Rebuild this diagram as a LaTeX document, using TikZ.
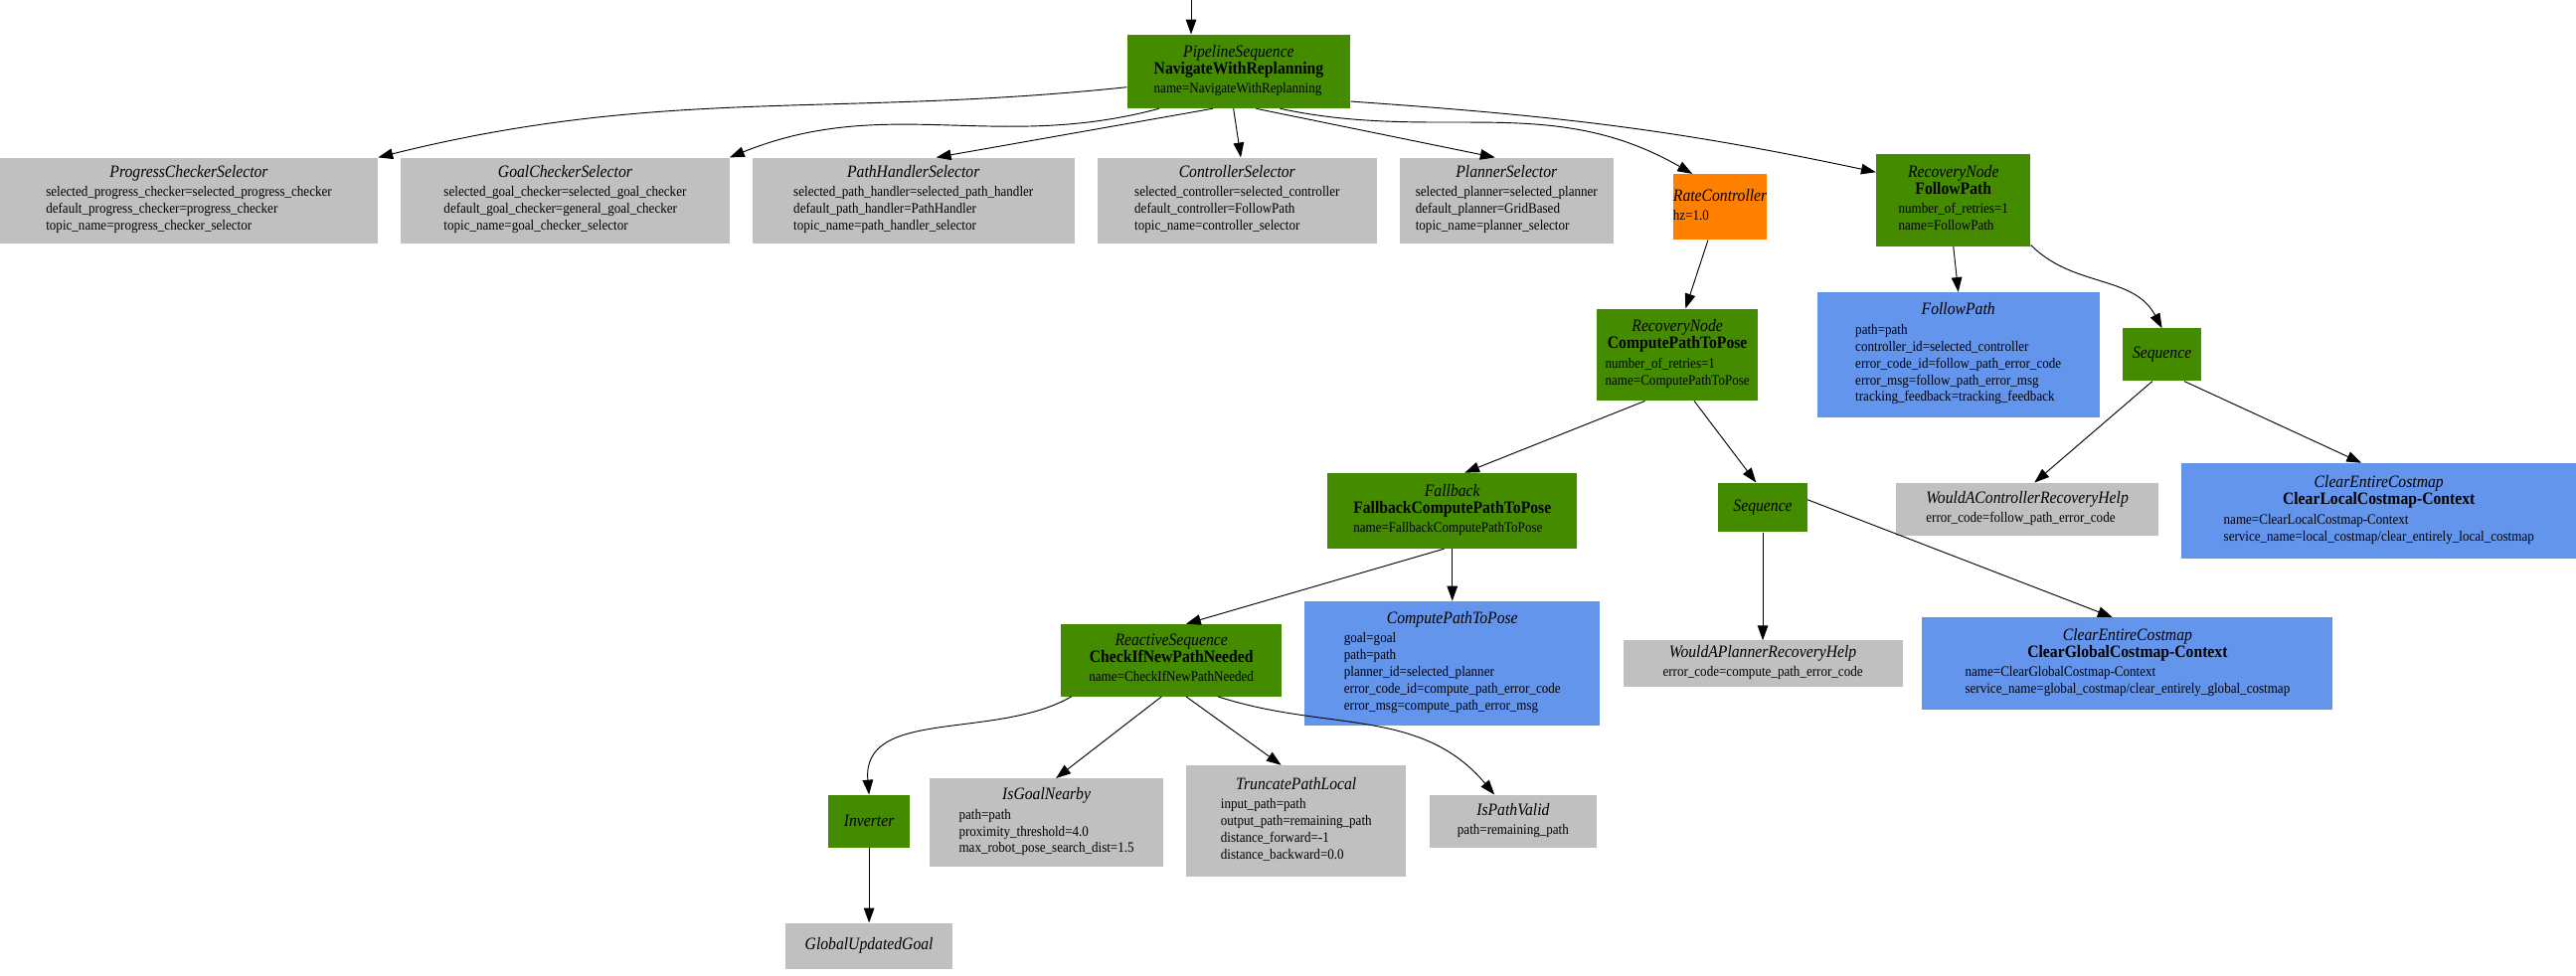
\documentclass[tikz,border=0pt]{standalone}
\usepackage{fontspec}
\setmainfont{Liberation Serif}[FakeStretch=0.9]
\usetikzlibrary{arrows.meta}
\definecolor{bgreen}{HTML}{458B00}
\definecolor{bgray}{HTML}{C0C0C0}
\definecolor{bblue}{HTML}{6495ED}
\definecolor{borange}{HTML}{FF7F00}
\newcommand\typefont{\fontsize{15}{17}\selectfont\itshape}
\newcommand\namefont{\fontsize{15}{17}\selectfont\bfseries}
\newcommand\tyname[3]{\begin{tabular}{@{}l@{}}\multicolumn{1}{@{}c@{}}{\typefont #1}\\\multicolumn{1}{@{}c@{}}{\namefont #2}\\[2pt]#3\end{tabular}}
\newcommand\ty[2]{\begin{tabular}{@{}l@{}}\multicolumn{1}{@{}c@{}}{\typefont #1}\\[2pt]#2\end{tabular}}
\tikzset{
	sz/.style 2 args={minimum width=#1*0.5mm,minimum height=#2*0.5mm},
	bnode/.style={inner sep=0pt, font=\fontsize{12.5}{14.6}\selectfont},
	gnode/.style={bnode, fill=bgreen},
	gynode/.style={bnode, fill=bgray},
	blnode/.style={bnode, fill=bblue},
	ornode/.style={bnode, fill=borange},
	link/.style={-{Triangle[length=4.5mm,width=3.2mm]}, line width=0.8pt}
}
\begin{document}
\catcode`\_=12
\begin{tikzpicture}[x=0.5mm,y=0.5mm]
	\useasboundingbox (0,0) rectangle (1568,-594);
	\coordinate (top) at (725,0);
	% first row
	\node[gnode,sz={136}{45}] (pipe) at (754,-43.5) {\tyname{PipelineSequence}{NavigateWithReplanning}{name=NavigateWithReplanning}};
	\node[gynode,sz={230}{52}] (prog) at (115,-122) {\ty{ProgressCheckerSelector}{selected_progress_checker={selected_progress_checker}\\default_progress_checker=progress_checker\\topic_name=progress_checker_selector}};
	\node[gynode,sz={200}{52}] (goal) at (344,-122) {\ty{GoalCheckerSelector}{selected_goal_checker={selected_goal_checker}\\default_goal_checker=general_goal_checker\\topic_name=goal_checker_selector}};
	\node[gynode,sz={196}{52}] (phand) at (556,-122) {\ty{PathHandlerSelector}{selected_path_handler={selected_path_handler}\\default_path_handler=PathHandler\\topic_name=path_handler_selector}};
	\node[gynode,sz={170}{52}] (ctrl) at (753,-122) {\ty{ControllerSelector}{selected_controller={selected_controller}\\default_controller=FollowPath\\topic_name=controller_selector}};
	\node[gynode,sz={130}{52}] (plan) at (917,-122) {\ty{PlannerSelector}{selected_planner={selected_planner}\\default_planner=GridBased\\topic_name=planner_selector}};
	\node[ornode,sz={50}{40}] (rate) at (1047,-126) {\ty{RateController}{hz=1.0}};
	\node[gnode,sz={94}{56}] (recfp) at (1189,-122) {\tyname{RecoveryNode}{FollowPath}{number_of_retries=1\\name=FollowPath}};
	% second row
	\node[gnode,sz={98}{56}] (reccp) at (1021,-216) {\tyname{RecoveryNode}{ComputePathToPose}{number_of_retries=1\\name=ComputePathToPose}};
	\node[blnode,sz={172}{76}] (fpath) at (1192,-216) {\ty{FollowPath}{path={path}\\controller_id={selected_controller}\\error_code_id={follow_path_error_code}\\error_msg={follow_path_error_msg}\\tracking_feedback={tracking_feedback}}};
	\node[gnode,sz={48}{32}] (seqr) at (1316,-216) {\typefont Sequence};
	% third row
	\node[gnode,sz={152}{46}] (fall) at (884,-311) {\tyname{Fallback}{FallbackComputePathToPose}{name=FallbackComputePathToPose}};
	\node[gnode,sz={54}{30}] (seqm) at (1073,-309) {\typefont Sequence};
	\node[gynode,sz={160}{32}] (wacr) at (1234,-310) {\ty{WouldAControllerRecoveryHelp}{error_code={follow_path_error_code}}};
	\node[blnode,sz={240}{58}] (clrl) at (1448,-311) {\tyname{ClearEntireCostmap}{ClearLocalCostmap-Context}{name=ClearLocalCostmap-Context\\service_name=local_costmap/clear_entirely_local_costmap}};
	% fourth row
	\node[gnode,sz={134}{44}] (ckn) at (713,-402) {\tyname{ReactiveSequence}{CheckIfNewPathNeeded}{name=CheckIfNewPathNeeded}};
	\node[blnode,sz={180}{76}] (cptp) at (884,-404) {\ty{ComputePathToPose}{goal={goal}\\path={path}\\planner_id={selected_planner}\\error_code_id={compute_path_error_code}\\error_msg={compute_path_error_msg}}};
	\node[gynode,sz={170}{28}] (wapr) at (1073,-404) {\ty{WouldAPlannerRecoveryHelp}{error_code={compute_path_error_code}}};
	\node[blnode,sz={250}{56}] (clrg) at (1295,-404) {\tyname{ClearEntireCostmap}{ClearGlobalCostmap-Context}{name=ClearGlobalCostmap-Context\\service_name=global_costmap/clear_entirely_global_costmap}};
	% fifth row
	\node[gnode,sz={50}{32}] (inv) at (529,-500) {\typefont Inverter};
	\node[gynode,sz={142}{54}] (igoal) at (637,-501) {\ty{IsGoalNearby}{path={path}\\proximity_threshold=4.0\\max_robot_pose_search_dist=1.5}};
	\node[gynode,sz={134}{68}] (trunc) at (789,-500) {\ty{TruncatePathLocal}{input_path={path}\\output_path={remaining_path}\\distance_forward=-1\\distance_backward=0.0}};
	\node[gynode,sz={102}{32}] (ipv) at (921,-500) {\ty{IsPathValid}{path={remaining_path}}};
	\node[gynode,sz={102}{28}] (gug) at (529,-576) {\typefont GlobalUpdatedGoal};
	% connectors
	\draw[link] (top) -- (top |- pipe.north);
	\draw[link] (pipe.188) to[out=186,in=14] (prog.north east);
	\draw[link] (pipe.205) to[out=195,in=22] (goal.north east);
	\draw[link] (pipe.235) -- (phand.62);
	\draw[link] (pipe.262) -- (ctrl.85);
	\draw[link] (pipe.295) -- (plan.105);
	\draw[link] (pipe.318) to[out=-12,in=150] (rate.130);
	\draw[link] (pipe.345) to[out=-4,in=168] (recfp.160);
	\draw[link] (rate.250) -- (reccp.80);
	\draw[link] (recfp.south) -- (fpath.north);
	\draw[link] (recfp.330) to[out=-45,in=118] (seqr.north);
	\draw[link] (reccp.235) -- (fall.72);
	\draw[link] (reccp.290) -- (seqm.105);
	\draw[link] (seqr.250) -- (wacr.75);
	\draw[link] (seqr.310) -- (clrl.110);
	\draw[link] (fall.258) -- (ckn.68);
	\draw[link] (fall.south) -- (cptp.north);
	\draw[link] (seqm.south) -- (wapr.north);
	\draw[link] (seqm.10) -- (clrg.108);
	\draw[link] (ckn.200) to[out=210,in=95] (inv.north);
	\draw[link] (ckn.255) -- (igoal.78);
	\draw[link] (ckn.292) -- (trunc.105);
	\draw[link] (ckn.322) to[out=-18,in=130] (ipv.125);
	\draw[link] (inv.south) -- (gug.north);
\end{tikzpicture}
\end{document}
